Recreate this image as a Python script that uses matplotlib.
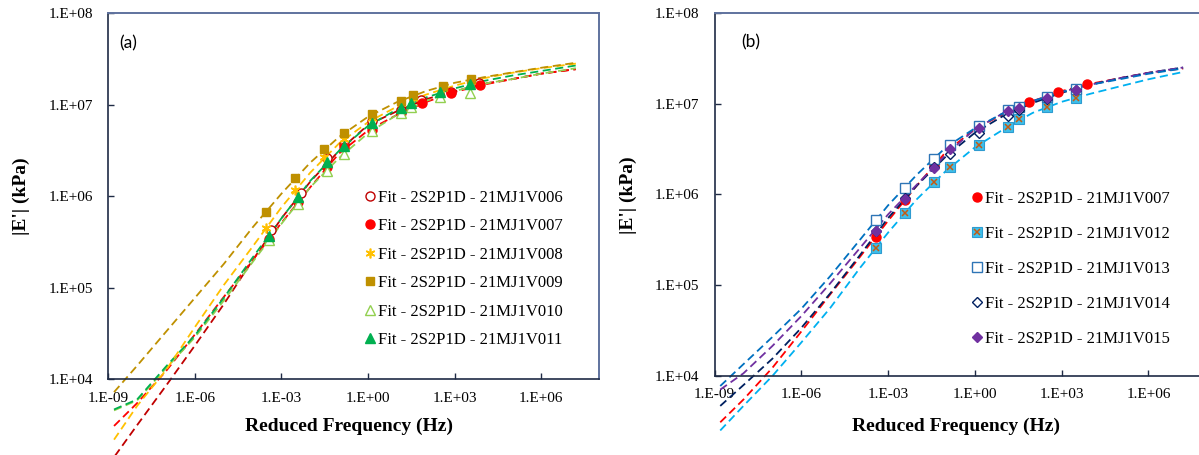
import numpy as np
import matplotlib
matplotlib.use('Agg')
import matplotlib.pyplot as plt
from matplotlib.ticker import FuncFormatter, NullLocator

plt.rcParams['font.family'] = ['Liberation Serif', 'DejaVu Serif']

# measured points, reduced frequency (Hz) and |E'| (kPa)
freq_009 = [2.82e-4, 2.88e-3, 2.95e-2, 0.145, 1.38, 13.5, 37.2, 380, 3800]
e_009 = [6.79e5, 1.57e6, 3.29e6, 4.89e6, 7.87e6, 1.11e7, 1.28e7, 1.61e7, 1.91e7]
freq_008 = [2.82e-4, 2.88e-3, 2.95e-2, 0.145, 1.38, 13.5, 37.2, 380, 3800]
e_008 = [4.47e5, 1.17e6, 2.71e6, 4.23e6, 7.24e6, 1.05e7, 1.20e7, 1.51e7, 1.82e7]
freq_011 = [3.63e-4, 3.72e-3, 3.80e-2, 0.145, 1.32, 14.1, 31.6, 316, 3310]
e_011 = [3.71e5, 9.91e5, 2.39e6, 3.55e6, 6.28e6, 9.16e6, 1.05e7, 1.37e7, 1.67e7]
freq_010 = [3.63e-4, 3.72e-3, 3.80e-2, 0.145, 1.32, 14.1, 31.6, 316, 3310]
e_010 = [3.33e5, 8.24e5, 1.91e6, 2.90e6, 5.13e6, 8.07e6, 9.40e6, 1.23e7, 1.34e7]
freq_007 = [3.72e-4, 3.80e-3, 3.89e-2, 0.141, 1.41, 14.1, 75.9, 759, 7590]
e_007 = [3.39e5, 8.71e5, 2.09e6, 3.47e6, 5.37e6, 8.13e6, 1.05e7, 1.36e7, 1.65e7]
freq_006 = [4.47e-4, 4.57e-3, 3.89e-2, 0.145, 1.36, 14.1, 70.8, 724, 7240]
e_006 = [4.29e5, 1.10e6, 2.60e6, 3.70e6, 6.65e6, 8.77e6, 1.13e7, 1.39e7, 1.74e7]

freq_b = [3.80e-4, 3.80e-3, 3.72e-2, 0.141, 1.40, 14.1, 33.1, 316, 3090]
e_012 = [2.55e5, 6.21e5, 1.36e6, 2.01e6, 3.54e6, 5.58e6, 6.75e6, 9.14e6, 1.17e7]
e_013 = [5.24e5, 1.19e6, 2.48e6, 3.54e6, 5.69e6, 8.53e6, 9.27e6, 1.18e7, 1.44e7]
e_014 = [3.98e5, 9.12e5, 2.00e6, 2.79e6, 4.79e6, 7.33e6, 8.51e6, 1.12e7, 1.40e7]
e_015 = [3.96e5, 8.91e5, 1.97e6, 3.17e6, 5.45e6, 8.32e6, 9.06e6, 1.17e7, 1.42e7]

# 2S2P1D fit curves
fit_freq = [1.58e-9, 1e-8, 1e-7, 1e-6, 1e-5, 1e-4, 1e-3, 1e-2, 1e-1, 1, 10,
            100, 1e3, 1e4, 1e5, 1e6, 1.58e7]
fit_006 = [1.41e3, 3.16e3, 8.51e3, 2.34e4, 6.61e4, 2.00e5, 5.75e5, 1.45e6, 3.16e6,
           6.03e6, 8.51e6, 1.15e7, 1.41e7, 1.70e7, 1.91e7, 2.19e7, 2.45e7]
fit_007 = [3.09e3, 5.50e3, 1.23e4, 3.09e4, 7.94e4, 2.00e5, 5.13e5, 1.26e6, 2.95e6,
           5.25e6, 7.76e6, 1.07e7, 1.38e7, 1.66e7, 1.91e7, 2.19e7, 2.45e7]
fit_008 = [2.19e3, 5.13e3, 1.26e4, 3.72e4, 1.07e5, 2.82e5, 7.59e5, 1.82e6, 3.80e6,
           6.46e6, 9.55e6, 1.29e7, 1.62e7, 1.95e7, 2.24e7, 2.51e7, 2.82e7]
fit_009 = [7.24e3, 1.41e4, 3.31e4, 7.76e4, 1.82e5, 4.57e5, 1.07e6, 2.34e6, 4.47e6,
           7.41e6, 1.07e7, 1.41e7, 1.74e7, 2.00e7, 2.26e7, 2.54e7, 2.88e7]
fit_010 = [4.57e3, 5.89e3, 1.32e4, 2.88e4, 7.24e4, 1.91e5, 5.01e5, 1.26e6, 2.63e6,
           4.90e6, 7.76e6, 1.10e7, 1.41e7, 1.70e7, 1.91e7, 2.19e7, 2.51e7]
fit_011 = [4.68e3, 6.03e3, 1.38e4, 3.02e4, 7.76e4, 2.14e5, 5.75e5, 1.48e6, 3.16e6,
           5.89e6, 8.91e6, 1.20e7, 1.51e7, 1.82e7, 2.09e7, 2.34e7, 2.69e7]
fit_012 = [2.51e3, 4.68e3, 1.00e4, 2.34e4, 5.62e4, 1.51e5, 3.80e5, 8.91e5, 1.82e6,
           3.31e6, 5.25e6, 7.94e6, 1.05e7, 1.29e7, 1.55e7, 1.86e7, 2.24e7]
fit_013 = [7.76e3, 1.35e4, 2.69e4, 5.50e4, 1.26e5, 3.09e5, 7.59e5, 1.66e6, 3.31e6,
           5.37e6, 7.94e6, 1.07e7, 1.35e7, 1.62e7, 1.86e7, 2.14e7, 2.45e7]
fit_014 = [4.68e3, 7.94e3, 1.55e4, 3.39e4, 8.13e4, 2.09e5, 5.50e5, 1.26e6, 2.63e6,
           4.79e6, 7.41e6, 1.02e7, 1.32e7, 1.62e7, 1.91e7, 2.19e7, 2.51e7]
fit_015 = [7.08e3, 1.07e4, 2.14e4, 4.57e4, 1.05e5, 2.51e5, 6.03e5, 1.29e6, 2.75e6,
           5.25e6, 7.94e6, 1.07e7, 1.35e7, 1.62e7, 1.91e7, 2.19e7, 2.51e7]

x_ticks = [1e-9, 1e-6, 1e-3, 1e0, 1e3, 1e6]
y_ticks = [1e4, 1e5, 1e6, 1e7, 1e8]

W, H = 1199, 455
fig = plt.figure(figsize=(W / 100, H / 100), dpi=100)
ax_a = fig.add_axes([108.3 / W, (H - 379.3) / H, 490.7 / W, 366 / H])
ax_b = fig.add_axes([714.5 / W, (H - 376) / H, 491.8 / W, 363 / H])

fmt = FuncFormatter(lambda v, p: '1.E%+03d' % round(np.log10(v)))


def style_axes(ax):
    ax.set_xscale('log')
    ax.set_yscale('log')
    ax.set_xlim(1e-9, 1e8)
    ax.set_ylim(1e4, 1e8)
    ax.set_xticks(x_ticks)
    ax.set_yticks(y_ticks)
    ax.xaxis.set_minor_locator(NullLocator())
    ax.yaxis.set_minor_locator(NullLocator())
    ax.xaxis.set_major_formatter(fmt)
    ax.yaxis.set_major_formatter(fmt)
    ax.tick_params(axis='x', direction='in', length=4, width=1, pad=9,
                   labelsize=11, color='#1F2B45')
    ax.tick_params(axis='y', direction='in', length=4, width=1, pad=11,
                   labelsize=11, color='#1F2B45')
    for s in ['left', 'bottom']:
        ax.spines[s].set_color('#1F2B45')
        ax.spines[s].set_linewidth(1.2)
    for s in ['top', 'right']:
        ax.spines[s].set_color('#5F729E')
        ax.spines[s].set_linewidth(1.4)


def fit_line(ax, e, color):
    ax.plot(fit_freq, e, color=color, lw=1.3, dashes=(4.5, 2.5), clip_on=False,
            zorder=2)


for ax in (ax_a, ax_b):
    style_axes(ax)

# ---- panel (a)
fit_line(ax_a, fit_006, '#C00000')
fit_line(ax_a, fit_007, '#FF0000')
fit_line(ax_a, fit_010, '#92D050')
fit_line(ax_a, fit_011, '#00B050')
fit_line(ax_a, fit_008, '#FFC000')
fit_line(ax_a, fit_009, '#BF9000')

h006, = ax_a.plot(freq_006, e_006, ls='none', marker='o', ms=6.5, mfc='white',
                  mec='#C00000', mew=1.0, zorder=3)
h007, = ax_a.plot(freq_007, e_007, ls='none', marker='o', ms=6.5, mfc='#FF0000',
                  mec='#FF0000', zorder=3)
h008, = ax_a.plot(freq_008, e_008, ls='none', marker=(6, 2, 0), ms=7,
                  mec='#FFC000', mew=1.2, zorder=3)
h009, = ax_a.plot(freq_009, e_009, ls='none', marker='s', ms=6.2, mfc='#BF9000',
                  mec='#BF9000', zorder=3)
h010, = ax_a.plot(freq_010, e_010, ls='none', marker='^', ms=6.5, mfc='white',
                  mec='#92D050', mew=1.0, zorder=3)
h011, = ax_a.plot(freq_011, e_011, ls='none', marker='^', ms=7, mfc='#00B050',
                  mec='#00B050', zorder=3)

labels_a = ['Fit - 2S2P1D - 21MJ1V006', 'Fit - 2S2P1D - 21MJ1V007',
            'Fit - 2S2P1D - 21MJ1V008', 'Fit - 2S2P1D - 21MJ1V009',
            'Fit - 2S2P1D - 21MJ1V010', 'Fit - 2S2P1D - 21MJ1V011']
fig.legend([h006, h007, h008, h009, h010, h011], labels_a, loc='upper left',
           bbox_to_anchor=(365.5 / W, 1 - 189.5 / H), frameon=False,
           fontsize=12, borderpad=0, borderaxespad=0, handlelength=0.5,
           handletextpad=0.25, labelspacing=0.75)

ax_a.text((119 - 108.3) / 490.7, (379.3 - 43) / 366, '(a)', transform=ax_a.transAxes,
          ha='left', va='center', fontsize=12.5, family='Lato')

# ---- panel (b)
fit_line(ax_b, fit_012, '#00B0F0')
fit_line(ax_b, fit_007, '#FF0000')
fit_line(ax_b, fit_014, '#002060')
fit_line(ax_b, fit_015, '#7030A0')
fit_line(ax_b, fit_013, '#0070C0')

hb007, = ax_b.plot(freq_007, e_007, ls='none', marker='o', ms=6.5, mfc='#FF0000',
                   mec='#FF0000', zorder=3)
hb012s, = ax_b.plot(freq_b, e_012, ls='none', marker='s', ms=6.5, mfc='#3DBFEA',
                    mec='#2E9BD0', mew=0.8, zorder=3)
hb012x, = ax_b.plot(freq_b, e_012, ls='none', marker='x', ms=5, mec='#C55A11',
                    mew=1.1, zorder=4)
hb013, = ax_b.plot(freq_b, e_013, ls='none', marker='s', ms=6.5, mfc='white',
                   mec='#2E75B6', mew=1.0, zorder=3)
hb014, = ax_b.plot(freq_b, e_014, ls='none', marker='D', ms=5, mfc='white',
                   mec='#002060', mew=1.0, zorder=3)
hb015, = ax_b.plot(freq_b, e_015, ls='none', marker='D', ms=5.5, mfc='#7030A0',
                   mec='#7030A0', zorder=3)

labels_b = ['Fit - 2S2P1D - 21MJ1V007', 'Fit - 2S2P1D - 21MJ1V012',
            'Fit - 2S2P1D - 21MJ1V013', 'Fit - 2S2P1D - 21MJ1V014',
            'Fit - 2S2P1D - 21MJ1V015']
fig.legend([hb007, (hb012s, hb012x), hb013, hb014, hb015], labels_b,
           loc='upper left', bbox_to_anchor=(972.5 / W, 1 - 190.5 / H),
           frameon=False, fontsize=12, borderpad=0, borderaxespad=0,
           handlelength=0.5, handletextpad=0.25, labelspacing=1.15)

ax_b.text((741 - 714.5) / 491.8, (376 - 42) / 363, '(b)', transform=ax_b.transAxes,
          ha='left', va='center', fontsize=12.5, family='Lato')

# axis titles
for ax, lx, ly, yx, yy in [(ax_a, 0.49, -0.1295, -0.178, 0.50),
                           (ax_b, 0.491, -0.1377, -0.1745, 0.499)]:
    ax.set_xlabel('Reduced Frequency (Hz)', fontsize=14, fontweight='bold')
    ax.set_ylabel("|E'| (kPa)", fontsize=14, fontweight='bold')
    ax.xaxis.label.set_va('center')
    ax.yaxis.label.set_va('center')
    ax.xaxis.set_label_coords(lx, ly)
    ax.yaxis.set_label_coords(yx, yy)

fig.savefig('out.png', dpi=100)
